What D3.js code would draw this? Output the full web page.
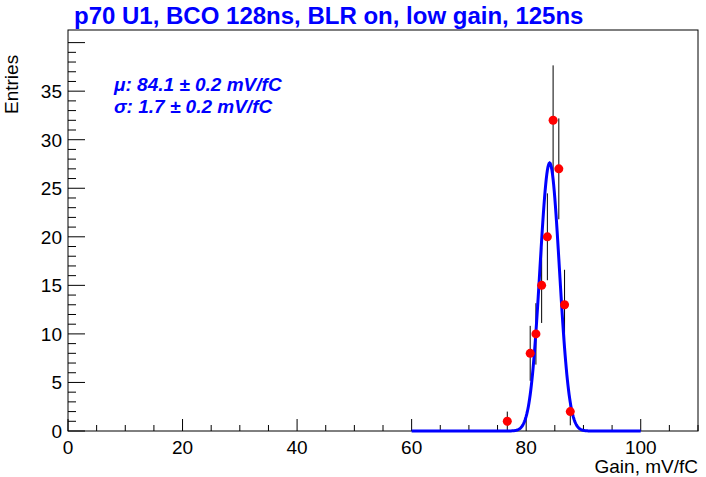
<!DOCTYPE html>
<html><head><meta charset="utf-8">
<script src="https://cdn.jsdelivr.net/npm/d3@7"></script>
<style>body{margin:0;background:#fff}text{font-family:"Liberation Sans",Arial,sans-serif}</style>
</head><body><div id="chart"></div>
<script>
// histogram bins (centre, entries)
var binX = [76.7, 80.7, 81.7, 82.7, 83.7, 84.7, 85.7, 86.7, 87.7];
var binY = [1, 8, 10, 15, 20, 32, 27, 13, 2];
var fitMean = 84.1, fitSigma = 1.7, fitAmp = 27.6;
var xTicks = [0, 20, 40, 60, 80, 100];
var yTicks = [0, 5, 10, 15, 20, 25, 30, 35];

var W = 706, H = 477;
var margin = { top: 30, right: 8, bottom: 46, left: 68 },
    width = W - margin.left - margin.right,
    height = H - margin.top - margin.bottom;

var root = d3.select("#chart").append("svg").attr("width", W).attr("height", H);
var svg = root.append("g").attr("transform", "translate(" + margin.left + "," + margin.top + ")");

var x = d3.scaleLinear().domain([0, 110]).range([0, width]);
var y = d3.scaleLinear().domain([0, 41.3]).range([height, 0]);

svg.append("rect").attr("width", width).attr("height", height)
    .attr("fill", "none").attr("stroke", "#000").attr("stroke-width", 1);

// x ticks
d3.range(0, 111, 5).forEach(function (v) {
    var major = v % 20 == 0;
    svg.append("line").attr("x1", x(v)).attr("x2", x(v))
        .attr("y1", height).attr("y2", height - (major ? 12 : 6)).attr("stroke", "#000");
});
xTicks.forEach(function (v) {
    svg.append("text").attr("x", x(v)).attr("y", height + 23).attr("text-anchor", "middle")
        .style("font-size", "19px").text(v);
});
// y ticks
d3.range(0, 41, 1).forEach(function (v) {
    var major = v % 5 == 0;
    svg.append("line").attr("x1", 0).attr("x2", major ? 17 : 8)
        .attr("y1", y(v)).attr("y2", y(v)).attr("stroke", "#000");
});
yTicks.forEach(function (v) {
    svg.append("text").attr("x", -6).attr("y", y(v) + 7).attr("text-anchor", "end")
        .style("font-size", "19px").text(v);
});

// error bars
binX.forEach(function (b, i) {
    var e = Math.sqrt(binY[i]);
    svg.append("line").attr("x1", x(b)).attr("x2", x(b))
        .attr("y1", y(binY[i] - e)).attr("y2", y(binY[i] + e))
        .attr("stroke", "#000").attr("stroke-width", 1);
});

// fit curve
var fitPts = d3.range(60, 100.001, 0.1);
svg.append("path").datum(fitPts)
    .attr("fill", "none").attr("stroke", "#0000ff").attr("stroke-width", 3)
    .attr("d", d3.line().x(function (d) { return x(d); })
        .y(function (d) { return y(fitAmp * Math.exp(-0.5 * Math.pow((d - fitMean) / fitSigma, 2))); }));

svg.selectAll(".pt").data(binX).enter().append("circle")
    .attr("cx", function (d) { return x(d); })
    .attr("cy", function (d, i) { return y(binY[i]); })
    .attr("r", 4.5).attr("fill", "#ff0000");

// labels
root.append("text").attr("x", 74).attr("y", 24).style("font-size", "24px").style("font-weight", "bold")
    .attr("fill", "#0000ff").text("p70 U1, BCO 128ns, BLR on, low gain, 125ns");
root.append("text").attr("x", W - 8).attr("y", 473).attr("text-anchor", "end")
    .style("font-size", "19px").text("Gain, mV/fC");
root.append("text").attr("transform", "translate(18,114) rotate(-90)")
    .style("font-size", "19px").text("Entries");
root.append("text").attr("x", 114).attr("y", 91).style("font-size", "19px").style("font-weight", "bold")
    .style("font-style", "italic").attr("fill", "#0000ff").text("\u03bc: 84.1 \u00b1 0.2 mV/fC");
root.append("text").attr("x", 114).attr("y", 113).style("font-size", "19px").style("font-weight", "bold")
    .style("font-style", "italic").attr("fill", "#0000ff").text("\u03c3: 1.7  \u00b1 0.2 mV/fC");
</script></body></html>
